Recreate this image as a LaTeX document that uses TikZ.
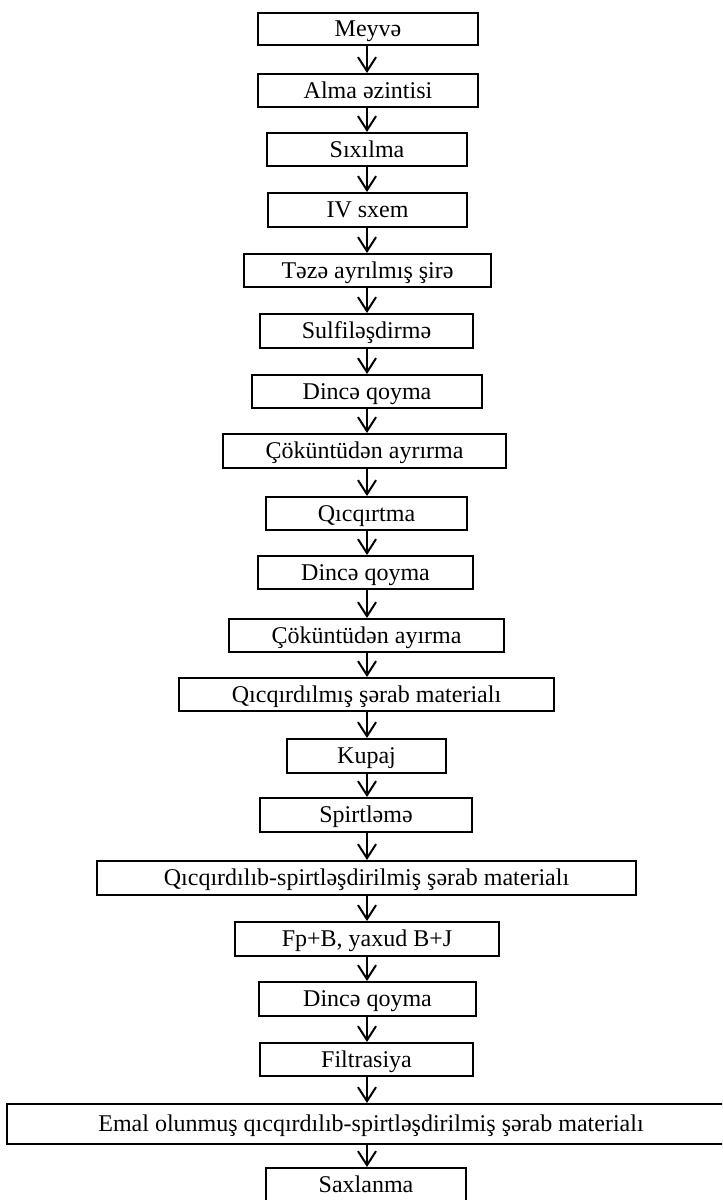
\documentclass[tikz,border=0pt]{standalone}
\usepackage{fontspec}
\setmainfont{Liberation Serif}
\usetikzlibrary{arrows.meta}
\begin{document}
\begin{tikzpicture}[x=0.75pt,y=-0.75pt,
  stepbox/.style={draw, line width=1.5pt, inner sep=0pt, text height=11.9pt, text depth=0pt, font=\fontsize{18}{20}\selectfont},
  arr/.style={line width=1.5pt, -{Straight Barb[length=10.5pt,width=13.5pt,line width=1.5pt]}}]
\useasboundingbox (0,0) rectangle (722,1200);
\clip (0,0) rectangle (722,1200);
\coordinate (X) at (367,0);
\def\bx#1#2#3#4#5#6{\node[stepbox, minimum width=#4*0.75pt, minimum height=#5*0.75pt] (#1) at (#2,#3) {#6};}
\bx{b1}{368}{28.5}{220}{32}{Meyvə}
\bx{b2}{368}{90.5}{220}{33}{Alma əzintisi}
\bx{b3}{367}{149.5}{200}{33}{Sıxılma}
\bx{b4}{367.5}{210}{199}{34}{IV sxem}
\bx{b5}{367.5}{270.5}{247}{33}{Təzə ayrılmış şirə}
\bx{b6}{366.5}{331}{213}{34}{Sulfiləşdirmə}
\bx{b7}{367}{391.5}{230}{33}{Dincə qoyma}
\bx{b8}{364.5}{451}{283}{34}{Çöküntüdən ayrırma}
\bx{b9}{366.5}{513.5}{201}{33}{Qıcqırtma}
\bx{b10}{365.5}{572.5}{215}{33}{Dincə qoyma}
\bx{b11}{366.5}{635.5}{275}{33}{Çöküntüdən ayırma}
\bx{b12}{366.5}{694.5}{375}{33}{Qıcqırdılmış şərab materialı}
\bx{b13}{366.5}{756}{159}{34}{Kupaj}
\bx{b14}{366}{815}{212}{34}{Spirtləmə}
\bx{b15}{366.5}{878}{539}{34}{Qıcqırdılıb-spirtləşdirilmiş şərab materialı}
\bx{b16}{367}{939}{264}{34}{Fp+B, yaxud B+J}
\bx{b17}{367.5}{999}{217}{34}{Dincə qoyma}
\bx{b18}{366.5}{1059.5}{213}{33}{Filtrasiya}
\bx{b19}{371}{1124}{728}{40}{Emal olunmuş qıcqırdılıb-spirtləşdirilmiş şərab materialı}
\bx{b20}{366}{1185}{200}{34}{Saxlanma}
\foreach \a/\b in {b1/b2,b2/b3,b3/b4,b4/b5,b5/b6,b6/b7,b7/b8,b8/b9,b9/b10,b10/b11,b11/b12,b12/b13,b13/b14,b14/b15,b15/b16,b16/b17,b17/b18,b18/b19,b19/b20}
  \draw[arr] (\a.south -| X) -- (\b.north -| X);
\end{tikzpicture}
\end{document}
